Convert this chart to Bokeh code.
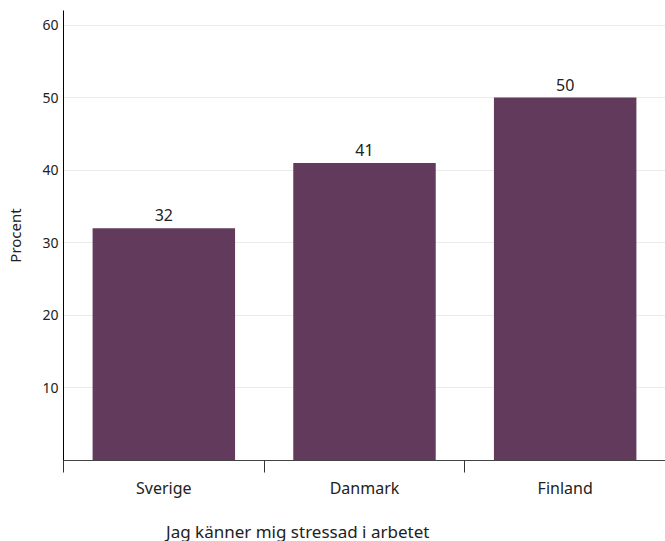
from bokeh.plotting import figure
from bokeh.layouts import column
from bokeh.models import FixedTicker, Legend, LegendItem, ColumnDataSource, LabelSet
from bokeh.core.properties import value
from bokeh.embed import file_html
from bokeh.resources import INLINE

countries = ["Sverige", "Danmark", "Finland"]
values = [32, 41, 50]
series_name = "Jag känner mig stressad i arbetet"
y_ticks = [10, 20, 30, 40, 50, 60]
y_label = "Procent"

FONT = "Noto Sans"
BAR = "#623a5c"

xc = [i + 0.5 for i in range(len(countries))]
src = ColumnDataSource(dict(x=xc, top=values, label=[str(v) for v in values]))

p = figure(width=665, height=505, x_range=(0, len(countries)), y_range=(0, 62),
           output_backend="svg", toolbar_location=None,
           min_border_top=10, min_border_right=0, min_border_bottom=45, min_border_left=63)
p.outline_line_color = None
r = p.vbar(x="x", top="top", width=0.71, source=src, fill_color=BAR, line_color=None)

labels = LabelSet(x="x", y="top", text="label", source=src, text_align="center",
                  text_baseline="bottom", y_offset=7, text_font_size="16px",
                  text_font=value(FONT), text_color="#222222")
p.add_layout(labels)

p.xgrid.grid_line_color = None
p.ygrid.grid_line_color = "#ebebeb"
p.ygrid.ticker = FixedTicker(ticks=y_ticks)

ya = p.yaxis[0]
ya.ticker = FixedTicker(ticks=y_ticks)
ya.major_tick_line_color = None
ya.major_tick_out = 0
ya.major_tick_in = 0
ya.minor_tick_line_color = None
ya.axis_line_color = "#000000"
ya.major_label_standoff = 5
ya.major_label_text_font = FONT
ya.major_label_text_font_size = "14px"
ya.major_label_text_color = "#222222"
ya.axis_label = y_label
ya.axis_label_text_font = FONT
ya.axis_label_text_font_size = "15px"
ya.axis_label_text_font_style = "normal"
ya.axis_label_text_color = "#222222"
ya.axis_label_standoff = 14

xa = p.xaxis[0]
xa.ticker = FixedTicker(ticks=xc, minor_ticks=list(range(len(countries) + 1)))
xa.major_label_overrides = {x: c for x, c in zip(xc, countries)}
xa.major_tick_line_color = None
xa.minor_tick_in = 0
xa.minor_tick_out = 12
xa.minor_tick_line_color = "#333333"
xa.axis_line_color = "#444444"
xa.major_label_text_font = FONT
xa.major_label_text_font_size = "16px"
xa.major_label_text_color = "#222222"
xa.major_label_standoff = 4

# Legend strip below the chart (its own small figure, no axes)
lg = figure(width=665, height=40, output_backend="svg", toolbar_location=None,
            x_axis_type=None, y_axis_type=None,
            min_border_top=0, min_border_right=0, min_border_bottom=0, min_border_left=0)
lg.outline_line_color = None
lg.xgrid.grid_line_color = None
lg.ygrid.grid_line_color = None
empty = ColumnDataSource(dict(x=[], top=[]))
lr = lg.vbar(x="x", top="top", width=0.71, source=empty, fill_color=BAR, line_color=None)

legend = Legend(items=[LegendItem(label=series_name, renderers=[lr])],
                orientation="horizontal", location=(68, 2),
                glyph_width=23, glyph_height=23,
                label_text_font=FONT, label_text_font_size="17px",
                label_text_color="#222222",
                border_line_color=None, background_fill_alpha=0,
                padding=0, margin=0, spacing=0, label_standoff=12,
                label_height=23)
lg.add_layout(legend)

layout = column(p, lg, spacing=0)
open("out.html", "w").write(file_html(layout, INLINE))
